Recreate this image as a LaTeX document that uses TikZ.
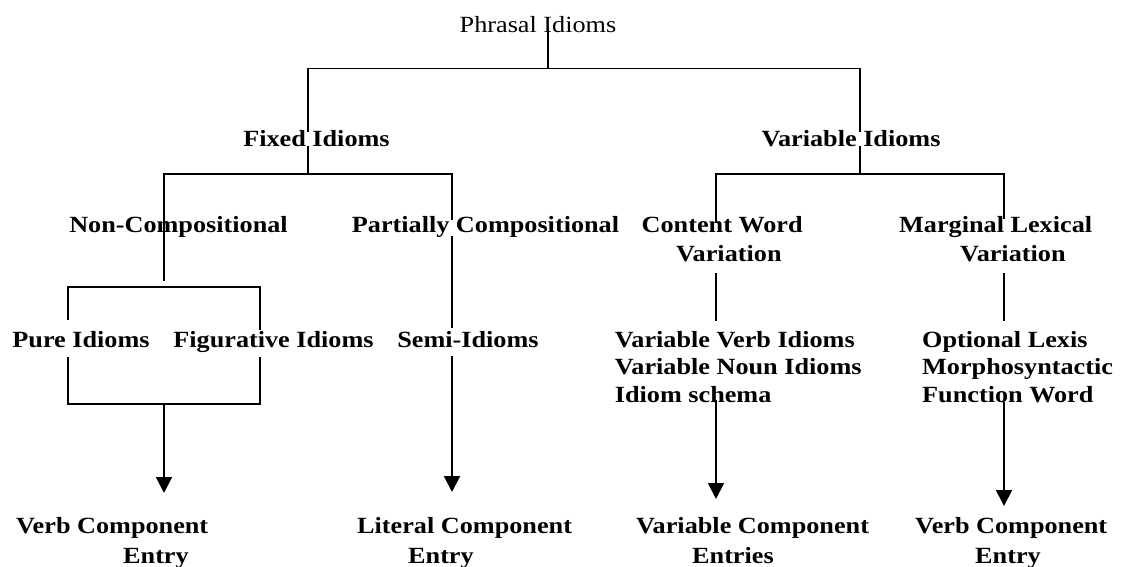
\documentclass[tikz,border=0pt]{standalone}
\usepackage{fontspec}
\setmainfont{Liberation Serif}[FakeStretch=1.13]
\usetikzlibrary{arrows.meta}
\begin{document}
\begin{tikzpicture}[x=1pt,y=-1pt,
  tx/.style={inner sep=0pt, font=\fontsize{23.2}{28}\selectfont},
  bd/.style={inner sep=0pt, font=\fontsize{23.2}{28}\selectfont\bfseries},
  bd30/.style={inner sep=0pt, align=left, anchor=base west, font=\fontsize{23.2}{30}\selectfont\bfseries},
  bd29/.style={inner sep=0pt, align=left, anchor=base west, font=\fontsize{23.2}{29}\selectfont\bfseries},
  bd27/.style={inner sep=0pt, align=left, anchor=base west, font=\fontsize{23.2}{27.5}\selectfont\bfseries},
  conn/.style={line width=1.9pt},
  arr/.style={conn,-{Triangle[width=16pt,length=16pt]}}]
\useasboundingbox (0,0) rectangle (1122,567);
% labels (multi-line nodes are placed by the baseline of their last line)
\node[tx, anchor=base] (root) at (538,33) {Phrasal Idioms};
\node[bd, anchor=base] (fixed) at (316.5,147) {Fixed Idioms};
\node[bd, anchor=base] (variable) at (851,147) {Variable Idioms};
\node[bd, anchor=base] (noncomp) at (178.5,232) {Non-Compositional};
\node[bd, anchor=base] (partial) at (485.5,232) {Partially Compositional};
\node[bd29] (content) at (641.5,261) {Content Word\\\hspace*{34.5pt}Variation};
\node[bd29] (marginal) at (899,261) {Marginal Lexical\\\hspace*{61pt}Variation};
\node[bd, anchor=base] (pure) at (81,347) {Pure Idioms};
\node[bd, anchor=base] (figur) at (273.5,347) {Figurative Idioms};
\node[bd, anchor=base] (semi) at (468,347) {Semi-Idioms};
\node[bd27] (varlist) at (614.7,402) {Variable Verb Idioms\\Variable Noun Idioms\\Idiom schema};
\node[bd27] (optlist) at (922,402) {Optional Lexis\\Morphosyntactic\\Function Word};
\node[bd30] (verbL) at (16,563) {Verb Component\\\hspace*{107pt}Entry};
\node[bd30] (literal) at (357,563) {Literal Component\\\hspace*{51pt}Entry};
\node[bd30] (varcomp) at (636,563) {Variable Component\\\hspace*{56pt}Entries};
\node[bd30] (verbR) at (915,563) {Verb Component\\\hspace*{60pt}Entry};
% junction coordinates
\coordinate (rootS) at (548,27);
\coordinate (rootJ) at (548,68.5);
\coordinate (fixT) at (308,68.5);
\coordinate (varT) at (860,68.5);
\coordinate (fixA) at (308,132);
\coordinate (fixB) at (308,146);
\coordinate (varA) at (860,132);
\coordinate (varB) at (860,146);
\coordinate (fixJ) at (308,174);
\coordinate (varJ) at (860,174);
\coordinate (ncT) at (164,174);
\coordinate (ncB) at (164,281);
\coordinate (pcT) at (452,174);
\coordinate (pcA) at (452,220);
\coordinate (pcC) at (452,236);
\coordinate (pcB) at (452,328);
\coordinate (semiB) at (452,356);
\coordinate (semiE) at (452,492);
\coordinate (boxTL) at (68,287);
\coordinate (boxTR) at (260,287);
\coordinate (boxBL) at (68,404);
\coordinate (boxBR) at (260,404);
\coordinate (boxB) at (164,404);
\coordinate (boxE) at (164,493);
\coordinate (cwT) at (716,174);
\coordinate (cwA) at (716,223);
\coordinate (cwB) at (716,273);
\coordinate (cwC) at (716,321);
\coordinate (cwD) at (716,400);
\coordinate (cwE) at (716,499);
\coordinate (mlT) at (1004,174);
\coordinate (mlA) at (1004,219);
\coordinate (mlB) at (1004,273);
\coordinate (mlC) at (1004,321);
\coordinate (mlD) at (1004,402);
\coordinate (mlE) at (1004,506);
% connectors
\draw[conn] (rootS) -- (rootJ);
\draw[conn] (fixA) -- (fixT) -- (varT) -- (varA);
\draw[conn] (fixB) -- (fixJ);
\draw[conn] (varB) -- (varJ);
\draw[conn] (ncB) -- (ncT) -- (pcT) -- (pcA);
\draw[conn] (pcC) -- (pcB);
\draw[conn] (cwA) -- (cwT) -- (mlT) -- (mlA);
\draw[conn] (cwB) -- (cwC);
\draw[conn] (mlB) -- (mlC);
\draw[conn] (68,320) -- (boxTL) -- (boxTR) -- (260,330);
\draw[conn] (68,357) -- (boxBL) -- (boxBR) -- (260,357);
\draw[arr] (boxB) -- (boxE);
\draw[arr] (semiB) -- (semiE);
\draw[arr] (cwD) -- (cwE);
\draw[arr] (mlD) -- (mlE);
\end{tikzpicture}
\end{document}
